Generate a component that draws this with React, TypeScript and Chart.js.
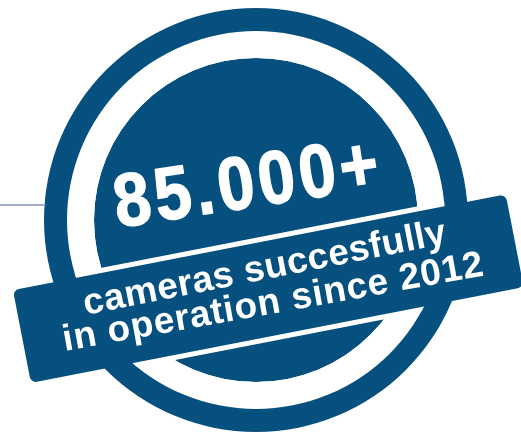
import React, { useEffect, useRef } from 'react';
import { Chart, registerables } from 'chart.js';

Chart.register(...registerables);

// ---- data ----
const ringLabels = ['badge'];
const ringNames = ['outer ring', 'gap', 'disc'];
const ringWidths = [23, 27, 162];
const ringValues = [1, 1, 1];
const headline = '85.000+';
const bannerLines = ['cameras succesfully', 'in operation since 2012'];

const BLUE = '#05507f';
const WHITE = '#ffffff';
const FONT = '"Liberation Sans", Arial, Helvetica, sans-serif';

export default function App() {
  const ref = useRef<HTMLCanvasElement>(null);

  useEffect(() => {
    const canvas = ref.current;
    if (!canvas) return;
    const deg = Math.PI / 180;

    const drawText = (ctx: any, cx: number, cy: number, text: string, angle: number, u: number, v: number, size: number, spacing: number, sx: number, bold: number) => {
      ctx.save();
      ctx.translate(cx, cy);
      ctx.rotate(angle * deg);
      ctx.translate(u, v);
      ctx.scale(sx, 1);
      ctx.font = `bold ${size}px ${FONT}`;
      ctx.letterSpacing = `${spacing}px`;
      ctx.fillStyle = WHITE;
      ctx.textAlign = 'center';
      ctx.textBaseline = 'alphabetic';
      ctx.fillText(text, spacing / 2, 0);
      if (bold > 0) {
        ctx.lineWidth = bold;
        ctx.strokeStyle = WHITE;
        ctx.lineJoin = 'round';
        ctx.strokeText(text, spacing / 2, 0);
      }
      ctx.restore();
    };

    const badgePlugin = {
      id: 'badgeDecor',
      afterDatasetsDraw(chart: any) {
        const ctx = chart.ctx;
        const outer = chart.getDatasetMeta(0).data[0];
        const gap = chart.getDatasetMeta(1).data[0];
        const cx = outer.x;
        const cy = outer.y;
        const R = outer.outerRadius;
        const rGap = gap.outerRadius;

        // connector line on the left
        ctx.save();
        const dy = 15;
        ctx.strokeStyle = '#8592b2';
        ctx.lineWidth = 1.5;
        ctx.beginPath();
        ctx.moveTo(0, cy - dy);
        ctx.lineTo(cx - Math.sqrt(R * R - dy * dy) + 1, cy - dy);
        ctx.stroke();
        ctx.restore();

        // banner
        ctx.save();
        ctx.translate(cx, cy);
        ctx.rotate(-11 * deg);
        const bx = -252, by = 22.5, bw = 502, bh = 94.5;
        ctx.save();
        ctx.beginPath();
        ctx.arc(0, 0, rGap, 0, Math.PI * 2);
        ctx.clip();
        ctx.beginPath();
        ctx.roundRect(bx, by, bw, bh, 6);
        ctx.lineWidth = 10;
        ctx.strokeStyle = WHITE;
        ctx.stroke();
        ctx.restore();
        ctx.beginPath();
        ctx.roundRect(bx, by, bw, bh, 6);
        ctx.fillStyle = BLUE;
        ctx.fill();
        ctx.restore();

        // texts
        drawText(ctx, cx, cy, headline, -8.7, -4.5, -13.5, 75, 5, 0.88, 1.5);
        drawText(ctx, cx, cy, bannerLines[0], -11.2, -1, 60, 37, 0.4, 1, 0);
        drawText(ctx, cx, cy, bannerLines[1], -10.2, 2, 95, 37, 0.8, 1, 0);
      },
    };

    const chart = new Chart(canvas, {
      type: 'doughnut',
      data: {
        labels: ringLabels,
        datasets: ringNames.map((name, i) => ({
          label: name,
          data: [ringValues[i]],
          weight: ringWidths[i],
          backgroundColor: i === 1 ? WHITE : BLUE,
          borderWidth: 0,
          hoverOffset: 0,
          offset: 0,
        })),
      },
      options: {
        responsive: false,
        maintainAspectRatio: false,
        animation: false,
        cutout: 0,
        events: [],
        layout: { padding: { left: 44, right: 53, top: 8, bottom: 0 } },
        plugins: {
          legend: { display: false },
          tooltip: { enabled: false },
        },
      } as any,
      plugins: [badgePlugin],
    });

    return () => chart.destroy();
  }, []);

  return (
    <div style={{ position: 'absolute', left: 0, top: 0, width: 521, height: 432, overflow: 'hidden', background: '#fff' }}>
      <canvas ref={ref} width={521} height={432} style={{ display: 'block' }} />
    </div>
  );
}
